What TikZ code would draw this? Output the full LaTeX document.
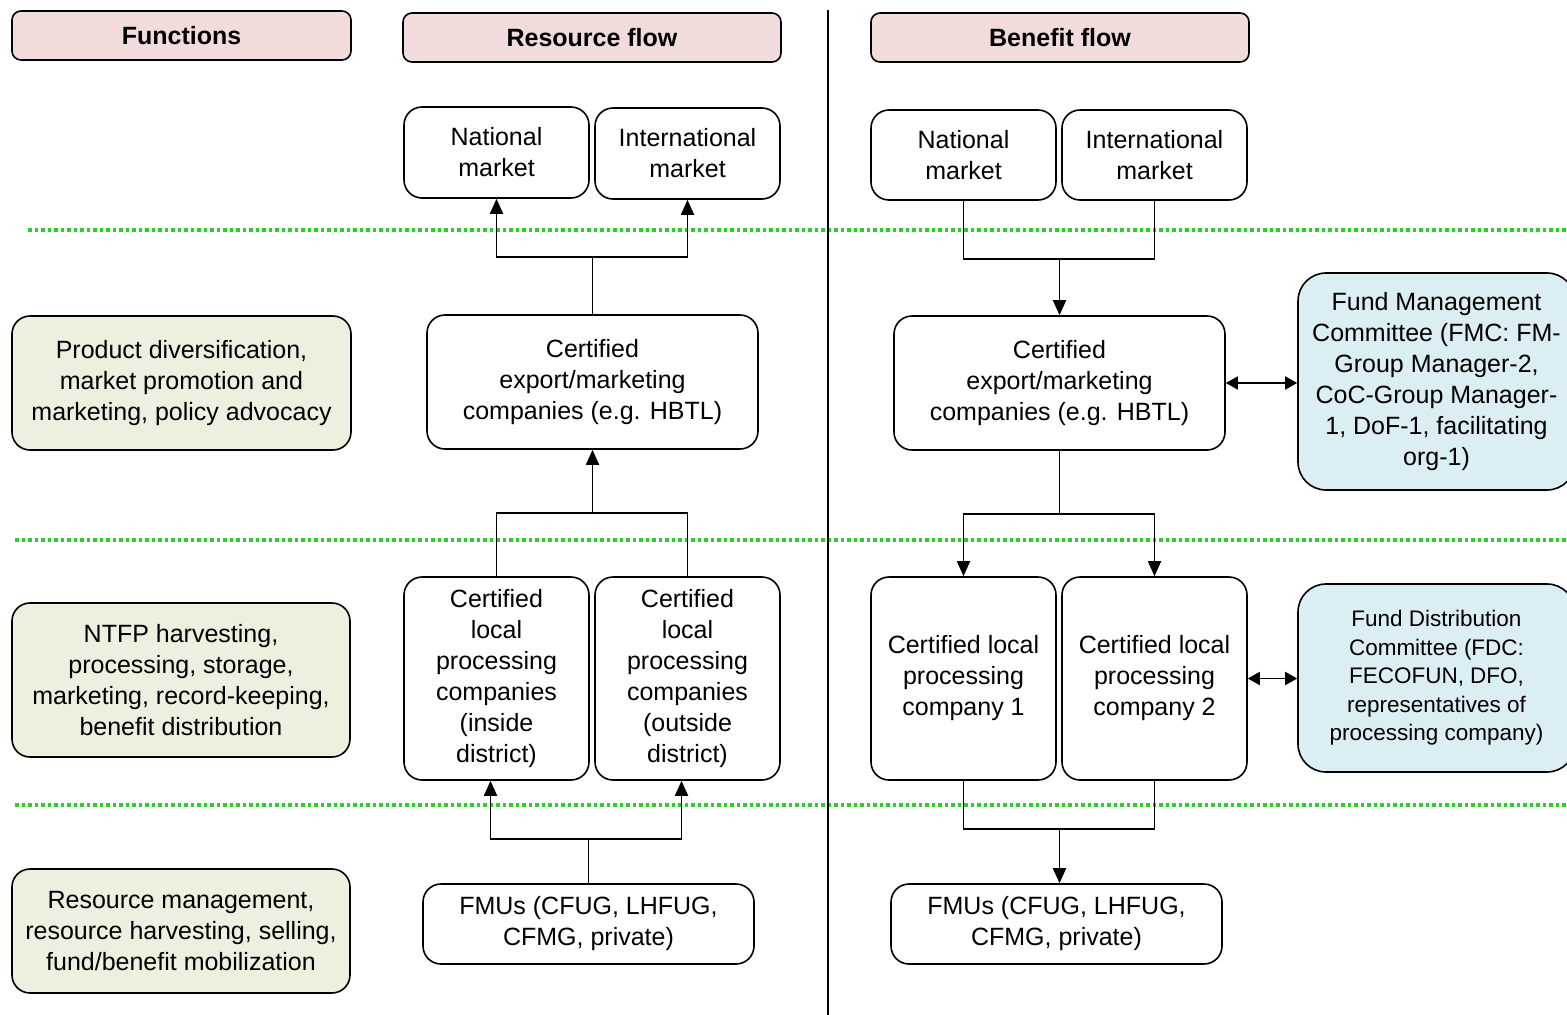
\documentclass[tikz,border=0pt]{standalone}
\usepackage{fontspec}
\setmainfont{Liberation Sans}
\usetikzlibrary{arrows.meta}
\definecolor{hdr}{HTML}{F2DCDB}
\definecolor{fgreen}{HTML}{EBF1DE}
\definecolor{fblue}{HTML}{DBEEF4}
\definecolor{dotgreen}{HTML}{2ECC2E}
\begin{document}
\begin{tikzpicture}[x=1pt,y=-1pt,
 box/.style={draw=black, line width=1.6pt, rounded corners=18pt, align=center, inner sep=0pt, font=\fontsize{25}{31}\selectfont, fill=white},
 hdrbox/.style={box, fill=hdr, rounded corners=9pt, font=\fontsize{25}{31}\selectfont\bfseries},
 funcbox/.style={box, fill=fgreen},
 combox/.style={box, fill=fblue, rounded corners=28pt},
 conn/.style={line width=1.8pt},
 arr/.style={conn, -{Triangle[width=13pt,length=15pt]}},
 darr/.style={conn, {Triangle[width=13pt,length=12pt]}-{Triangle[width=13pt,length=12pt]}},
 sep/.style={draw=dotgreen, line width=3.5pt, dash pattern=on 3.5pt off 3pt},
]
\useasboundingbox (0,0) rectangle (1567,1015);
% separators
\draw[sep] (28,230) -- (1567,230);
\draw[sep] (15,540) -- (1567,540);
\draw[sep] (15,805) -- (1567,805);
\draw[line width=1.4pt] (828,10) -- (828,1015);

% headers
\node[hdrbox, minimum width=339pt, minimum height=49pt] (h1) at (181.5,35.5) {Functions};
\node[hdrbox, minimum width=378pt, minimum height=49pt] (h2) at (592,37.5) {Resource flow};
\node[hdrbox, minimum width=378pt, minimum height=49pt] (h3) at (1060,37.5) {Benefit flow};

% functions
\node[funcbox, minimum width=339pt, minimum height=134pt] (f1) at (181.5,383) {Product diversification,\\market promotion and\\marketing, policy advocacy};
\node[funcbox, minimum width=338pt, minimum height=154pt] (f2) at (181,680) {NTFP harvesting,\\processing, storage,\\marketing, record-keeping,\\benefit distribution};
\node[funcbox, minimum width=338pt, minimum height=124pt] (f3) at (181,931) {Resource management,\\resource harvesting, selling,\\fund/benefit mobilization};

% resource flow
\node[box, minimum width=185pt, minimum height=91pt] (nm1) at (496.5,152.5) {National\\market};
\node[box, minimum width=185pt, minimum height=91pt] (im1) at (687.5,153.5) {International\\market};
\node[box, minimum width=331pt, minimum height=134pt] (ce1) at (592.5,382) {Certified\\export/marketing\\companies (e.g. HBTL)};
\node[box, minimum width=185pt, minimum height=203pt] (lp1) at (496.5,678.5) {Certified\\local\\processing\\companies\\(inside\\district)};
\node[box, minimum width=185pt, minimum height=203pt] (lp2) at (687.5,678.5) {Certified\\local\\processing\\companies\\(outside\\district)};
\node[box, minimum width=331pt, minimum height=80pt] (fmu1) at (588.5,924) {FMUs (CFUG, LHFUG,\\CFMG, private)};

% benefit flow
\node[box, minimum width=185pt, minimum height=90pt] (nm2) at (963.5,155) {National\\market};
\node[box, minimum width=185pt, minimum height=90pt] (im2) at (1154.5,155) {International\\market};
\node[box, minimum width=331pt, minimum height=134pt] (ce2) at (1059.5,383) {Certified\\export/marketing\\companies (e.g. HBTL)};
\node[box, minimum width=185pt, minimum height=203pt] (lp3) at (963.5,678.5) {Certified local\\processing\\company 1};
\node[box, minimum width=185pt, minimum height=203pt] (lp4) at (1154.5,678.5) {Certified local\\processing\\company 2};
\node[box, minimum width=331pt, minimum height=80pt] (fmu2) at (1056.5,924) {FMUs (CFUG, LHFUG,\\CFMG, private)};
\node[combox, minimum width=277pt, minimum height=217pt] (fmc) at (1436.5,381.5) {Fund Management\\Committee (FMC: FM-\\Group Manager-2,\\CoC-Group Manager-\\1, DoF-1, facilitating\\org-1)};
\node[combox, minimum width=277pt, minimum height=188pt, font=\fontsize{22.5}{28.5}\selectfont] (fdc) at (1436.5,678) {Fund Distribution\\Committee (FDC:\\FECOFUN, DFO,\\representatives of\\processing company)};

% resource connectors
\coordinate (r1) at (592.5,257);
\draw[conn] (ce1.north) -- (r1);
\draw[arr] (r1) -| (nm1.south);
\draw[arr] (r1) -| (im1.south);
\coordinate (r2) at (592.5,513);
\draw[conn] (lp1.north) |- (r2);
\draw[conn] (lp2.north) |- (r2);
\draw[arr] (r2) -- (ce1.south);
\coordinate (r3) at (588.5,839);
\draw[conn] (fmu1.north) -- (r3);
\draw[arr] (r3) -| ([xshift=-6pt]lp1.south);
\draw[arr] (r3) -| ([xshift=-6pt]lp2.south);

% benefit connectors
\coordinate (b1) at (1059.5,259);
\draw[conn] (nm2.south) |- (b1);
\draw[conn] (im2.south) |- (b1);
\draw[arr] (b1) -- (ce2.north);
\coordinate (b2) at (1059.5,514);
\draw[conn] (ce2.south) -- (b2);
\draw[arr] (b2) -| (lp3.north);
\draw[arr] (b2) -| (lp4.north);
\coordinate (b3) at (1059.5,829);
\draw[conn] (lp3.south) |- (b3);
\draw[conn] (lp4.south) |- (b3);
\draw[arr] (b3) -- (b3 |- fmu2.north);
\draw[darr] (ce2.east) -- (fmc.west |- ce2.east);
\draw[darr] (lp4.east) -- (fdc.west |- lp4.east);
\end{tikzpicture}
\end{document}
